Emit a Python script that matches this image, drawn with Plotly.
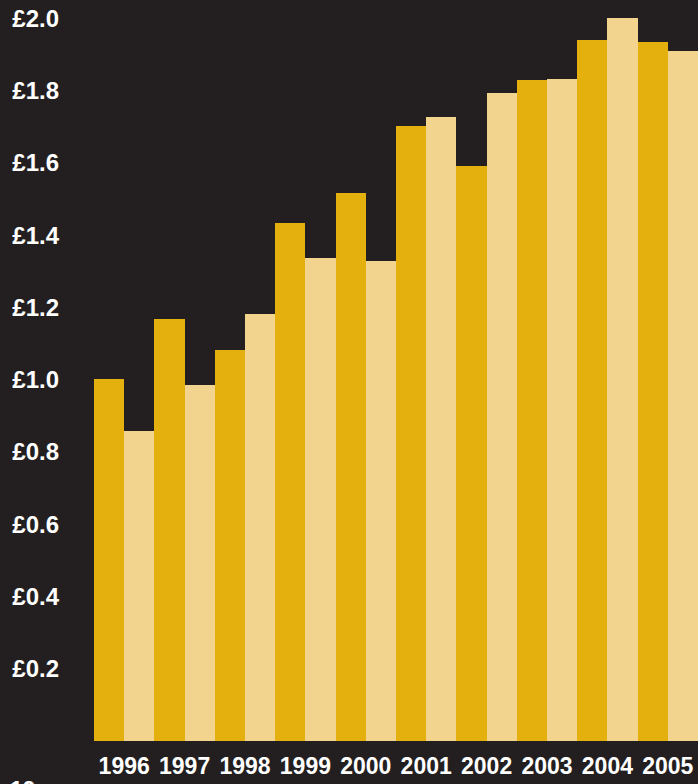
import plotly.graph_objects as go

years = ["1996", "1997", "1998", "1999", "2000", "2001", "2002", "2003", "2004", "2005"]
series_a = [1.003, 1.169, 1.083, 1.434, 1.517, 1.703, 1.592, 1.830, 1.940, 1.935]
series_b = [0.859, 0.986, 1.183, 1.337, 1.329, 1.728, 1.794, 1.833, 2.001, 1.910]
tick_vals = [0.2, 0.4, 0.6, 0.8, 1.0, 1.2, 1.4, 1.6, 1.8, 2.0]
tick_text = ["£0.2", "£0.4", "£0.6", "£0.8", "£1.0", "£1.2", "£1.4", "£1.6", "£1.8", "£2.0"]

BG = "#231f20"
DARK = "#e4b00e"
LIGHT = "#f2d48e"
FONT = "Liberation Sans"

fig = go.Figure()
fig.add_trace(go.Bar(x=years, y=series_a, marker=dict(color=DARK, line=dict(width=0)), showlegend=False))
fig.add_trace(go.Bar(x=years, y=series_b, marker=dict(color=LIGHT, line=dict(width=0)), showlegend=False))

fig.update_layout(
    width=698, height=784,
    paper_bgcolor=BG, plot_bgcolor=BG,
    margin=dict(l=94, r=0, t=0, b=42.5),
    barmode="group", bargap=0, bargroupgap=0,
    font=dict(family=FONT, color="white"),
    xaxis=dict(showgrid=False, zeroline=False, showline=False, ticks="",
               tickfont=dict(family=FONT, size=23, color="white", weight="bold"),
               ticklabelstandoff=9, fixedrange=True),
    yaxis=dict(range=[0, 2.051], showgrid=False, zeroline=False, showline=False, ticks="",
               tickvals=tick_vals, ticktext=tick_text,
               tickfont=dict(family=FONT, size=24, color="white", weight="bold"),
               ticklabelstandoff=34, fixedrange=True),
    annotations=[dict(text="<b>19</b>", xref="paper", yref="paper",
                      x=(8 - 94) / 604, y=(741.5 - 776) / 741.5,
                      xanchor="left", yanchor="top", showarrow=False,
                      font=dict(family=FONT, size=23, color="white"))],
)

fig.write_html(
    "out.html",
    config={"displayModeBar": False},
    post_script="document.body.style.margin='0';document.body.style.background='#231f20';document.body.style.overflow='hidden';",
)
